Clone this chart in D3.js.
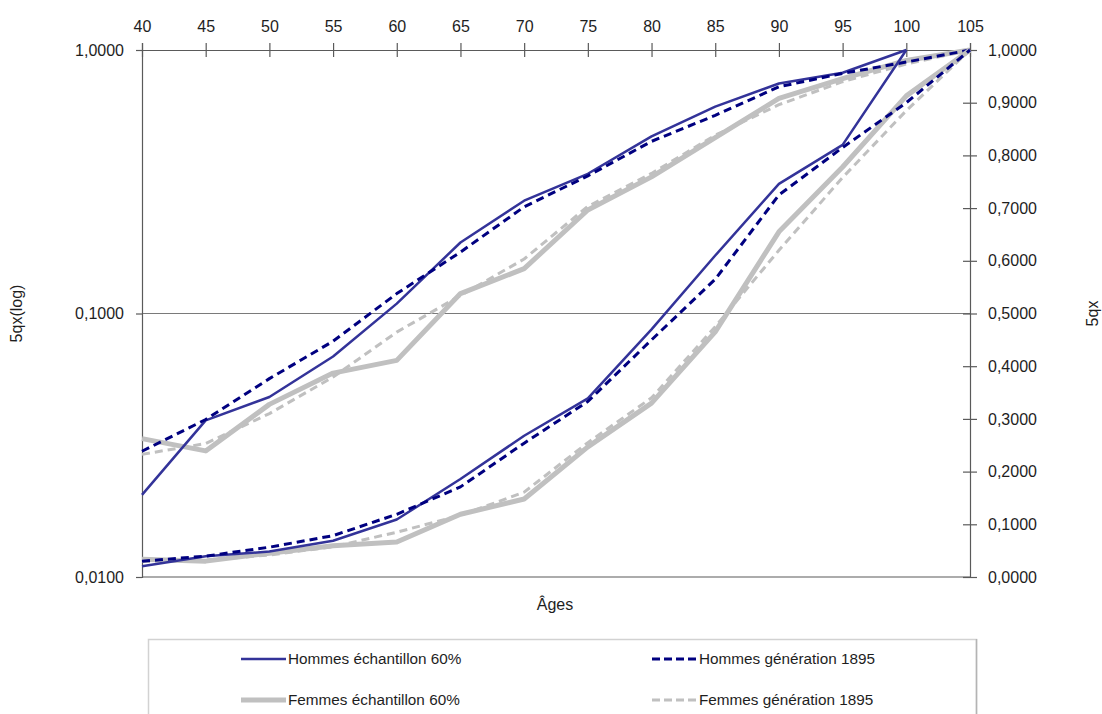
<!DOCTYPE html>
<html>
<head>
<meta charset="utf-8">
<script src="https://cdn.jsdelivr.net/npm/d3@7/dist/d3.min.js"></script>
<style>
  html, body { margin: 0; padding: 0; background: #ffffff; }
  svg { display: block; }
  text { font-family: "Liberation Sans", Arial, sans-serif; fill: #1e1e1e; }
</style>
</head>
<body>
<svg id="chart" width="1102" height="714"></svg>
<script>
// Ages (start of each 5-year band)
const ages = [40, 45, 50, 55, 60, 65, 70, 75, 80, 85, 90, 95, 100, 105];

// 5qx by age band
const hommesEchantillon = [0.0205, 0.0393, 0.0482, 0.0687, 0.109, 0.186, 0.268, 0.339, 0.470, 0.610, 0.746, 0.820, 1.0, null];
const hommesGeneration  = [0.0300, 0.0396, 0.0566, 0.0785, 0.119, 0.171, 0.254, 0.333, 0.450, 0.565, 0.725, 0.815, 0.900, 1.0];
const femmesEchantillon = [0.0335, 0.0301, 0.0452, 0.0594, 0.0664, 0.119, 0.148, 0.247, 0.330, 0.465, 0.655, 0.778, 0.913, 1.0];
const femmesGeneration  = [0.0292, 0.0321, 0.0417, 0.0574, 0.085, 0.117, 0.161, 0.255, 0.340, 0.475, 0.620, 0.758, 0.885, 1.0];

// Axis tick values
const logTicks = [0.01, 0.1, 1];
const linTicks = [0, 0.1, 0.2, 0.3, 0.4, 0.5, 0.6, 0.7, 0.8, 0.9, 1.0];
const ageTicks = ages;

const seriesNames = ["Hommes échantillon 60%", "Hommes génération 1895", "Femmes échantillon 60%", "Femmes génération 1895"];

const styles = {
  "Hommes échantillon 60%": { color: "#333399", width: 2.5, dash: null },
  "Hommes génération 1895": { color: "#000080", width: 3, dash: "8,5" },
  "Femmes échantillon 60%": { color: "#c0c0c0", width: 5, dash: null },
  "Femmes génération 1895": { color: "#c0c0c0", width: 3, dash: "8,5" }
};

const series = [
  { name: seriesNames[0], values: hommesEchantillon },
  { name: seriesNames[1], values: hommesGeneration },
  { name: seriesNames[2], values: femmesEchantillon },
  { name: seriesNames[3], values: femmesGeneration }
];

const frFmt = v => d3.format(".4f")(v).replace(".", ",");

const svg = d3.select("#chart");
const plotLeft = 142, plotRight = 970, plotTop = 50, plotBottom = 577;

const x = d3.scaleLinear().domain([40, 105]).range([plotLeft, plotRight]);
const yLog = d3.scaleLog().domain([0.01, 1]).range([plotBottom, plotTop]);
const yLin = d3.scaleLinear().domain([0, 1]).range([plotBottom, plotTop]);

const axisColor = "#5a5a5a";

// Horizontal gridline at 0,1000
svg.append("line")
  .attr("x1", plotLeft).attr("x2", plotRight)
  .attr("y1", yLog(0.1)).attr("y2", yLog(0.1))
  .attr("stroke", "#7a7a7a").attr("stroke-width", 1.2);

// Bottom frame line
svg.append("line")
  .attr("x1", plotLeft).attr("x2", plotRight)
  .attr("y1", plotBottom).attr("y2", plotBottom)
  .attr("stroke", axisColor).attr("stroke-width", 1.2);

// Top age axis with crossing ticks
const gx = svg.append("g")
  .attr("transform", `translate(0,${plotTop})`)
  .call(d3.axisTop(x).tickValues(ageTicks).tickSize(7).tickPadding(11).tickFormat(d3.format("d")));
gx.selectAll(".tick line").attr("y1", 7).attr("y2", -7);

// Left logarithmic axis
const gl = svg.append("g")
  .attr("transform", `translate(${plotLeft},0)`)
  .call(d3.axisLeft(yLog).tickValues(logTicks).tickSize(6).tickPadding(12).tickFormat(frFmt));

// Right linear axis with crossing ticks
const gr = svg.append("g")
  .attr("transform", `translate(${plotRight},0)`)
  .call(d3.axisRight(yLin).tickValues(linTicks).tickSize(7).tickPadding(11).tickFormat(frFmt));
gr.selectAll(".tick line").attr("x1", -7).attr("x2", 7);

[gx, gl, gr].forEach(g => {
  g.selectAll(".domain").attr("stroke", axisColor).attr("stroke-width", 1.2);
  g.selectAll(".tick line").attr("stroke", axisColor).attr("stroke-width", 1.2);
  g.selectAll("text").attr("font-size", 16).attr("fill", "#1e1e1e")
    .attr("font-family", '"Liberation Sans", Arial, sans-serif');
});

// Series: drawn once against the log scale and once against the linear scale
const drawOrder = [series[2], series[3], series[0], series[1]];
const plot = svg.append("g");

[yLog, yLin].forEach(yScale => {
  drawOrder.forEach(s => {
    const st = styles[s.name];
    const line = d3.line()
      .defined(d => d.v != null)
      .x(d => x(d.age))
      .y(d => yScale(d.v));
    plot.append("path")
      .datum(ages.map((a, i) => ({ age: a, v: s.values[i] })))
      .attr("d", line)
      .attr("fill", "none")
      .attr("stroke", st.color)
      .attr("stroke-width", st.width)
      .attr("stroke-dasharray", st.dash)
      .attr("stroke-linejoin", "round");
  });
});

// Axis titles
svg.append("text")
  .attr("transform", `translate(22,${(plotTop + plotBottom) / 2}) rotate(-90)`)
  .attr("text-anchor", "middle")
  .attr("font-size", 16)
  .text("5qx(log)");

svg.append("text")
  .attr("transform", `translate(1098,${(plotTop + plotBottom) / 2}) rotate(-90)`)
  .attr("text-anchor", "middle")
  .attr("font-size", 16)
  .text("5qx");

svg.append("text")
  .attr("x", (plotLeft + plotRight) / 2 - 1)
  .attr("y", 610)
  .attr("text-anchor", "middle")
  .attr("font-size", 16)
  .text("Âges");

// Legend
svg.append("rect")
  .attr("x", 148.5).attr("y", 639.5)
  .attr("width", 828).attr("height", 100)
  .attr("fill", "#ffffff")
  .attr("stroke", "#d2d2d2").attr("stroke-width", 1.5);
svg.append("line")
  .attr("x1", 976.5).attr("x2", 976.5)
  .attr("y1", 639).attr("y2", 714)
  .attr("stroke", "#b4b4b4").attr("stroke-width", 1.5);

const legendPos = [
  { x: 241, y: 659 }, { x: 652, y: 659 },
  { x: 241, y: 700 }, { x: 652, y: 700 }
];

seriesNames.forEach((name, i) => {
  const st = styles[name];
  const p = legendPos[i];
  const g = svg.append("g").attr("transform", `translate(${p.x},${p.y})`);
  g.append("line")
    .attr("x1", 0).attr("x2", 45)
    .attr("stroke", st.color)
    .attr("stroke-width", st.width)
    .attr("stroke-dasharray", st.dash ? "8,4" : null);
  g.append("text")
    .attr("x", 47)
    .attr("dy", "0.35em")
    .attr("font-size", 15.3)
    .text(name);
});
</script>
</body>
</html>
